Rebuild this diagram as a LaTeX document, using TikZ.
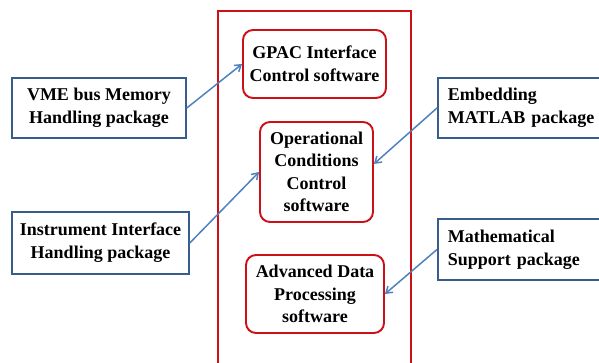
\documentclass[tikz,border=0pt]{standalone}
\usepackage{fontspec}
\setmainfont{Liberation Serif}
\usetikzlibrary{arrows.meta}
\definecolor{frame red}{RGB}{204,16,24}
\definecolor{box blue}{RGB}{56,93,138}
\definecolor{link blue}{RGB}{79,129,189}
\tikzset{
  module/.style = {draw=frame red, line width=1.9pt, rounded corners=10pt,
                   align=center, font=\fontsize{18}{22.5}\selectfont\bfseries,
                   inner sep=2pt},
  pkgleft/.style  = {draw=box blue, line width=1.6pt, align=center,
                   font=\fontsize{18}{23}\selectfont\bfseries,
                   minimum height=60pt, inner sep=2pt},
  pkgright/.style = {draw=box blue, line width=1.6pt, align=left,
                   font=\fontsize{18}{23}\selectfont\bfseries,
                   minimum height=60pt, inner xsep=10pt, text width=150pt},
  feed/.style   = {-{Straight Barb[length=6pt,width=8pt]}, line width=1.5pt,
                   draw=link blue}
}

\begin{document}
\begin{tikzpicture}[x=1pt, y=-1pt]
\clip (0,0) rectangle (599,363);
% ---- Framework (open at the bottom) ----
\draw[frame red, line width=1.9pt] (218,11) rectangle (411,380);

% ---- Software modules ----
\node[module, minimum width=143pt, minimum height=68pt] (gpac) at (314.5,64)
  {GPAC Interface\\Control software};
\node[module, minimum width=113pt, minimum height=100pt] (ops) at (316.5,172)
  {Operational\\Conditions\\Control\\software};
\node[module, minimum width=138pt, minimum height=78pt] (adp) at (315,294)
  {Advanced Data\\Processing\\software};

% ---- Packages ----
\node[pkgleft, minimum width=174pt] (vme) at (99,108)
  {VME bus Memory\\Handling package};
\node[pkgleft, minimum width=177pt, minimum height=62pt] (instr) at (100.5,243)
  {Instrument Interface\\Handling package};
\node[pkgright, anchor=west] (matlab) at (437,108)
  {Embedding\\MATLAB package};
\node[pkgright, anchor=west, minimum height=61pt] (math) at (437,249.5)
  {Mathematical\\Support package};

% ---- Links ----
\draw[feed] (vme.east)    -- (gpac.west);
\draw[feed] (instr.east)  -- (ops.west);
\draw[feed] (matlab.west) -- (ops.8);
\draw[feed] (math.west)   -- (adp.east);
\end{tikzpicture}
\end{document}
